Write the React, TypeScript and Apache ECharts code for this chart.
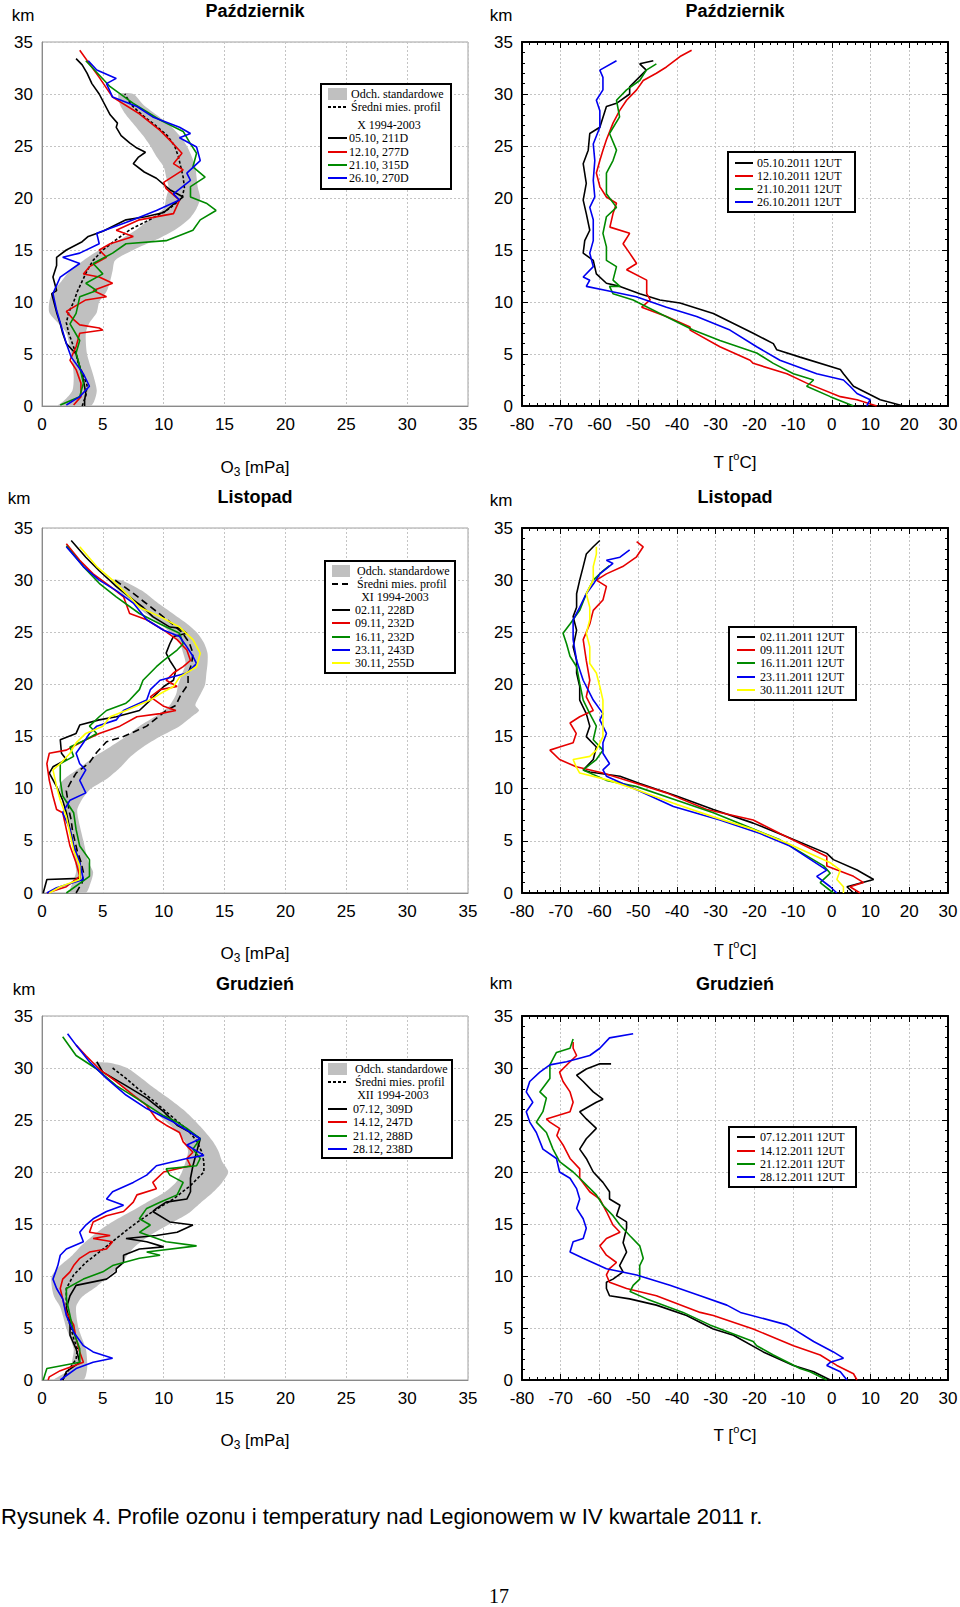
import React, { useEffect, useRef } from "react";
import * as echarts from "echarts";

type Pt = [number, number];
type BandRow = [number, number, number]; // km, left, right

// ---------- October ozone [mPa, km] ----------
const OCT_BAND: BandRow[] = [[0,1.3,4.0],[0.5,1.8,4.3],[1.5,2.5,4.5],[3,2.6,4.2],[5,2.4,3.7],[7,2.0,3.6],[8,1.3,3.9],[9,0.6,4.5],[10,0.6,4.7],[11,0.9,5.3],[12,1.6,5.6],[13,2.3,5.8],[14,3.4,6.0],[15,4.7,7.5],[16,6.4,9.4],[17,7.8,11.0],[18,8.9,12.1],[19,10.0,12.7],[20,10.2,13.0],[21,10.4,12.8],[22,10.2,12.7],[23,10.0,12.6],[24,9.4,12.3],[25,8.9,11.9],[26,8.3,11.3],[27,7.6,10.5],[28,6.9,9.4],[29,6.4,8.3],[30,6.3,7.5]];
const OCT_O3_MEAN: Pt[] = [[3.3,0],[3.6,1],[3.7,2],[3.4,3],[3.0,4],[2.8,5],[2.5,6],[2.2,7],[2.0,8],[2.2,9],[2.6,10],[2.9,11],[3.3,12],[3.7,13],[4.2,14],[5.0,15],[6.1,16],[7.3,17],[9.0,18],[10.5,19],[11.5,20],[11.7,21],[11.6,22],[11.4,23],[11.2,24],[10.9,25],[10.3,26],[9.3,27],[8.2,28],[7.3,29],[6.8,30]];
const OCT_O3_0510: Pt[] = [[3.5,0],[3.5,0.6],[3.6,1.2],[3.4,2.5],[3.1,3.8],[2.8,5.0],[2.0,6.0],[1.7,7.0],[1.5,7.9],[1.2,9.0],[0.8,10.8],[1.2,11.1],[0.9,12.4],[1.2,13.5],[1.2,14.3],[2.0,15.0],[3.3,15.8],[3.8,16.3],[5.0,16.8],[6.9,17.9],[8.5,18.2],[10.0,18.6],[10.8,19.4],[11.6,20.1],[10.5,20.8],[9.4,21.9],[8.4,22.5],[7.5,23.3],[7.9,23.9],[8.5,24.4],[7.8,24.8],[7.2,25.3],[6.5,26.0],[6.1,26.8],[6.2,27.2],[5.6,28.0],[4.7,30.0],[4.1,31.0],[3.7,32.0],[3.3,32.8],[2.8,33.4]];
const OCT_O3_1210: Pt[] = [[2.6,0.1],[3.2,0.9],[3.2,2.2],[2.8,3.5],[2.3,4.4],[2.8,5.7],[3.1,7.0],[5.0,7.3],[4.7,7.5],[3.1,7.8],[2.6,8.3],[2.0,9.1],[3.6,10.2],[5.3,10.5],[4.2,11.1],[5.8,11.8],[4.7,12.4],[3.4,12.7],[3.9,13.4],[5.3,14.3],[4.7,15.0],[5.6,15.6],[7.5,16.3],[6.1,16.9],[8.0,17.9],[10.8,18.5],[11.3,19.8],[10.2,20.9],[10.0,21.5],[11.6,22.7],[10.8,23.3],[11.5,24.3],[10.8,25.2],[9.7,26.5],[8.0,28.1],[5.8,29.7],[4.7,31.6],[3.1,34.2]];
const OCT_O3_2110: Pt[] = [[1.5,0.1],[3.1,0.9],[3.4,2.2],[3.1,3.8],[2.8,5.1],[3.1,6.3],[2.3,7.9],[2.8,8.9],[3.1,10.5],[4.5,11.1],[3.6,11.8],[5.0,12.7],[4.2,13.7],[5.8,14.7],[6.9,15.6],[10.2,15.9],[12.4,16.9],[13.0,17.9],[14.3,18.8],[13.5,19.5],[12.2,20.1],[12.2,21.1],[13.4,22.0],[12.4,23.0],[12.7,24.3],[12.2,25.2],[11.6,26.4],[9.7,27.5],[7.5,29.1],[5.6,30.7],[3.6,33.2]];
const OCT_O3_2610: Pt[] = [[2.0,0.1],[3.1,0.9],[3.9,1.9],[3.4,3.1],[2.4,4.7],[2.0,6.0],[1.6,7.6],[1.2,9.2],[0.9,10.8],[1.5,12.4],[3.1,13.7],[1.7,14.3],[3.1,14.7],[4.7,15.6],[4.5,16.6],[7.5,17.9],[9.4,18.8],[11.3,19.8],[10.8,20.4],[12.2,21.7],[11.9,22.4],[13.0,23.6],[12.7,24.9],[11.3,25.8],[12.2,26.2],[11.3,26.8],[9.1,27.8],[7.8,28.8],[5.8,29.7],[5.3,31.0],[6.1,31.5],[4.5,32.3],[3.8,33.2]];

// ---------- October temperature [°C, km] ----------
const OCT_T_0510: Pt[] = [[18.5,0],[12.5,0.6],[5.6,1.9],[3.0,3.1],[2.2,3.5],[-8.2,4.7],[-14.2,5.4],[-15.1,6.0],[-20.3,7.0],[-30.6,8.9],[-39.2,9.9],[-44.4,10.2],[-49.6,10.8],[-54.7,11.5],[-58.2,11.8],[-60.8,12.7],[-61.6,14.0],[-64.2,14.7],[-63.8,15.9],[-62.5,16.9],[-63.4,18.5],[-64.2,19.8],[-63.4,21.4],[-64.2,23.3],[-62.9,24.6],[-62.5,26.2],[-59.9,26.8],[-58.2,28.8],[-55.6,29.1],[-52.2,30.0],[-52.2,30.7],[-47.9,32.3],[-49.6,32.9],[-46.1,33.2]];
const OCT_T_1210: Pt[] = [[11.6,0],[6.5,0.6],[2.2,0.9],[-6.5,2.2],[-11.6,3.1],[-20.3,4.1],[-21.1,4.4],[-28.9,5.7],[-36.6,7.3],[-36.6,7.6],[-42.7,8.6],[-49.1,9.5],[-46.9,10.2],[-47.8,10.8],[-47.8,12.1],[-53.0,13.1],[-50.4,13.7],[-52.2,14.7],[-53.9,15.6],[-52.2,16.6],[-57.3,17.2],[-56.5,18.5],[-55.6,19.5],[-58.2,20.1],[-59.9,21.1],[-60.8,22.4],[-59.9,23.6],[-59.1,24.6],[-58.2,25.6],[-56.5,27.2],[-54.8,28.4],[-53.0,29.4],[-50.4,30.4],[-48.7,31.3],[-45.3,32.0],[-42.7,32.6],[-39.2,33.6],[-36.2,34.2]];
const OCT_T_2110: Pt[] = [[5.6,0],[-0.4,0.9],[-6.5,1.9],[-4.7,2.5],[-9.9,3.1],[-15.1,4.1],[-19.4,5.1],[-28.9,6.3],[-35.8,7.3],[-44.4,8.9],[-51.3,10.2],[-56.5,10.8],[-57.4,11.5],[-54.7,11.5],[-56.5,12.1],[-55.6,13.4],[-58.2,14.0],[-58.2,15.3],[-59.1,16.6],[-58.2,18.2],[-55.6,19.1],[-58.2,20.4],[-58.2,22.4],[-56.5,23.6],[-55.6,24.6],[-57.4,26.2],[-54.8,27.8],[-55.6,29.4],[-53.0,30.4],[-49.6,31.3],[-47.9,32.3],[-45.3,32.9]];
const OCT_T_2610: Pt[] = [[9.0,0],[9.9,0.6],[6.5,1.2],[4.7,1.9],[3.0,2.5],[-3.9,3.1],[-13.4,4.4],[-19.4,5.7],[-26.3,7.3],[-34.9,8.6],[-42.7,9.5],[-50.5,10.5],[-58.2,11.1],[-63.4,11.5],[-62.5,12.1],[-64.2,12.4],[-61.6,13.4],[-62.5,14.7],[-61.6,15.9],[-61.6,17.9],[-62.5,19.1],[-61.2,20.1],[-61.6,21.7],[-61.2,23.6],[-61.6,25.2],[-59.9,26.8],[-59.9,28.4],[-60.8,29.4],[-59.1,30.4],[-59.1,31.6],[-59.9,32.3],[-55.6,33.2]];

// ---------- November ozone ----------
const NOV_BAND: BandRow[] = [[0,2.3,3.6],[1,2.5,4.0],[2,2.8,4.2],[3,2.7,3.8],[5,2.5,3.4],[7,2.2,3.0],[8,1.9,2.9],[9,1.8,3.3],[10,1.4,4.0],[10.5,1.5,4.7],[11,1.9,5.4],[12,3.1,6.4],[13,4.2,7.2],[14,5.6,8.3],[15,6.9,9.7],[16,8.0,11.3],[17,9.4,12.4],[17.5,10.0,12.9],[18,10.5,12.6],[19,11.0,13.0],[20,11.2,13.4],[21,11.5,13.5],[22,11.8,13.6],[23,11.6,13.6],[24,11.3,13.3],[25,10.5,12.7],[26,9.5,11.7],[27,8.3,10.5],[28,7.3,9.3],[29,6.3,8.2],[30,5.6,6.5]];
const NOV_O3_MEAN: Pt[] = [[2.8,0],[3.3,1],[3.4,2],[3.2,3],[2.9,4],[2.7,5],[2.5,6],[2.4,7],[2.2,8],[2.1,9],[2.0,9.8],[2.3,10.5],[2.8,11.5],[3.9,12.5],[4.5,13.5],[5.3,14.5],[6.7,15],[8.6,16],[10.2,17.5],[11.0,18],[11.4,19],[12.0,20],[12.0,21],[12.3,22],[12.4,23],[12.1,24],[11.5,25],[10.5,26],[9.4,27],[8.3,28],[7.2,29],[6.0,30]];
const NOV_O3_0211: Pt[] = [[0.1,0],[0.4,1.3],[3.1,1.4],[3.1,2.9],[2.6,4.5],[2.3,6.1],[2.0,7.7],[1.7,8.9],[1.2,10.2],[0.6,11.5],[0.9,12.1],[2.0,12.8],[1.6,13.4],[1.5,14.7],[2.8,15.3],[3.1,16.1],[4.7,16.6],[6.1,16.9],[8.0,17.5],[8.9,18.5],[9.4,19.1],[10.0,19.8],[10.8,20.4],[11.0,21.4],[10.5,22.3],[10.2,23.0],[10.5,23.9],[10.8,24.6],[11.9,24.9],[11.3,25.4],[10.5,25.5],[9.1,26.5],[8.3,27.4],[7.5,28.1],[6.1,29.4],[4.7,30.9],[3.6,32.2],[2.4,33.8]];
const NOV_O3_0911: Pt[] = [[0.4,0],[2.0,0.6],[3.1,1.6],[2.8,2.9],[2.3,4.5],[2.0,6.1],[1.7,7.7],[1.2,8.0],[0.9,9.3],[0.6,10.8],[0.4,12.4],[0.6,13.4],[2.0,13.7],[3.6,14.7],[4.7,15.3],[6.4,16.0],[7.8,16.9],[9.7,17.2],[11.0,17.5],[10.0,17.9],[8.9,18.8],[9.7,19.5],[11.1,19.8],[10.2,20.4],[10.8,21.1],[11.6,21.7],[12.2,22.3],[11.9,23.3],[11.1,24.3],[10.0,25.2],[8.6,26.2],[7.2,26.8],[6.7,28.4],[5.6,29.4],[4.2,30.6],[3.1,31.9],[2.0,33.5]];
const NOV_O3_1611: Pt[] = [[2.0,0],[3.9,1.6],[3.9,3.2],[3.1,4.5],[2.8,6.1],[2.6,7.7],[1.7,9.3],[1.5,10.8],[1.5,12.4],[2.6,13.1],[2.3,14.0],[3.6,14.7],[4.5,15.3],[3.9,16.0],[4.7,16.9],[5.3,17.5],[6.9,18.2],[7.2,18.5],[8.0,19.5],[8.3,20.4],[9.4,21.7],[10.0,22.3],[11.1,23.3],[11.6,23.9],[11.3,24.9],[9.7,25.8],[8.0,26.8],[6.1,28.4],[4.7,29.7],[3.4,31.3],[2.0,33.3]];
const NOV_O3_2311: Pt[] = [[0.4,0],[1.2,0.5],[3.4,1.3],[3.1,2.9],[2.6,4.5],[2.3,6.1],[1.7,7.7],[2.3,8.9],[3.6,9.6],[3.1,10.8],[3.6,11.8],[3.1,12.4],[2.8,13.4],[3.4,14.4],[3.9,15.3],[4.5,16.0],[6.1,16.6],[6.7,17.5],[8.6,18.5],[8.9,19.5],[9.7,20.4],[11.9,21.1],[12.7,22.0],[12.4,22.7],[11.9,23.6],[11.3,24.6],[10.0,25.2],[8.6,26.2],[7.5,27.8],[6.1,29.0],[4.7,30.0],[3.4,31.3],[2.0,33.2]];
const NOV_O3_3011: Pt[] = [[0.6,0],[1.5,0.6],[3.1,1.3],[3.1,2.6],[2.6,4.1],[2.3,5.7],[2.0,7.3],[1.5,8.9],[1.2,10.2],[0.9,11.8],[1.5,12.4],[2.3,13.4],[2.8,14.4],[3.6,15.3],[5.0,16.0],[5.6,16.9],[6.9,17.5],[8.9,18.5],[9.7,19.1],[10.8,19.8],[11.3,20.7],[12.7,21.7],[13.0,23.0],[12.4,24.3],[11.3,25.5],[9.7,26.5],[8.0,27.4],[7.2,28.4],[5.8,30.0],[4.5,31.3],[3.1,33.2]];

// ---------- November temperature ----------
const NOV_T_0211: Pt[] = [[5.6,0],[3.9,0.6],[10.8,1.3],[6.5,2.2],[0.4,3.2],[-1.3,3.8],[-11.6,5.4],[-20.3,6.7],[-30.6,8.0],[-40.1,9.3],[-49.6,10.5],[-54.7,11.2],[-62.5,11.6],[-64.2,11.8],[-61.6,12.8],[-60.8,14.0],[-63.4,15.0],[-62.5,16.0],[-63.4,17.2],[-65.1,18.5],[-65.1,19.8],[-65.9,21.1],[-65.9,22.3],[-66.8,23.6],[-65.9,25.2],[-66.8,26.5],[-65.9,27.4],[-65.9,28.7],[-65.1,30.0],[-64.2,31.3],[-63.4,32.5],[-61.6,33.2],[-59.9,33.8]];
const NOV_T_0911: Pt[] = [[7.3,0],[4.7,0.6],[8.2,1.0],[5.6,1.6],[-1.3,2.6],[-1.3,3.5],[-13.4,5.7],[-20.3,7.0],[-32.3,8.0],[-42.7,9.6],[-50.4,10.5],[-59.1,11.5],[-66.0,12.1],[-70.3,12.8],[-72.8,13.7],[-70.3,14.0],[-66.8,14.4],[-66.0,15.3],[-67.6,16.3],[-65.1,16.9],[-61.6,17.5],[-63.4,18.8],[-62.5,20.4],[-63.4,22.3],[-64.2,24.3],[-62.5,25.8],[-61.6,27.1],[-59.1,28.1],[-58.2,29.4],[-60.8,30.0],[-58.2,30.6],[-54.0,31.3],[-50.5,32.2],[-48.7,33.2],[-50.4,33.7]];
const NOV_T_1611: Pt[] = [[0.4,0],[-3.0,1.0],[-0.4,1.9],[-2.1,2.6],[-13.4,5.1],[-22.0,6.4],[-30.6,7.7],[-40.1,8.9],[-50.4,10.2],[-58.2,10.8],[-64.2,11.8],[-60.8,12.8],[-59.1,13.7],[-61.6,14.7],[-60.8,16.0],[-62.5,17.2],[-64.2,18.5],[-65.1,20.1],[-65.9,21.7],[-67.6,22.7],[-68.5,23.9],[-69.4,24.9],[-67.6,25.8],[-65.1,27.1],[-63.4,28.7],[-61.6,30.0],[-59.1,30.9],[-57.4,31.4]];
const NOV_T_2311: Pt[] = [[1.3,0],[-0.4,0.6],[-3.9,1.6],[-1.3,2.2],[-10.8,4.5],[-18.5,5.7],[-28.9,7.0],[-40.9,8.3],[-50.4,9.9],[-58.2,11.2],[-59.1,11.8],[-57.4,12.4],[-59.1,13.4],[-59.1,14.4],[-58.2,15.3],[-59.9,16.6],[-59.1,17.2],[-61.6,18.5],[-64.2,20.4],[-65.9,22.3],[-66.8,24.3],[-66.8,26.2],[-65.1,27.4],[-63.4,28.7],[-61.6,29.6],[-59.9,30.6],[-56.5,31.6],[-58.2,31.9],[-54.7,32.2],[-52.2,32.9]];
const NOV_T_3011: Pt[] = [[3.0,0],[3.0,0.6],[1.3,1.3],[2.2,2.2],[-0.4,2.9],[-11.6,4.8],[-20.3,6.1],[-30.6,7.3],[-40.9,8.6],[-50.4,9.9],[-57.4,10.8],[-65.1,11.5],[-66.0,12.1],[-66.8,12.8],[-62.5,13.1],[-60.8,13.7],[-59.1,15.0],[-59.1,16.6],[-59.1,18.5],[-59.9,19.8],[-60.8,21.1],[-62.5,22.0],[-62.5,23.6],[-63.4,24.9],[-62.5,26.2],[-62.5,27.4],[-63.4,28.7],[-61.6,30.0],[-61.6,31.3],[-60.8,32.5],[-60.8,33.2]];

// ---------- December ozone ----------
const DEC_BAND: BandRow[] = [[0,1.0,3.4],[1,2.3,3.7],[2,2.5,3.7],[3,2.6,3.6],[5,2.0,3.0],[7,1.5,2.8],[8,1.0,3.3],[9,0.8,4.5],[10,0.8,5.5],[11,1.5,6.5],[12,2.5,7.0],[13,3.3,7.8],[14,4.3,9.0],[15,5.5,10.5],[16,7.0,12.0],[17,8.5,13.0],[18,10.0,14.0],[19,11.0,14.8],[20,11.5,15.3],[21,11.8,14.8],[22,12.0,14.5],[23,11.7,14.0],[24,11.0,13.3],[25,10.0,12.5],[26,9.0,11.6],[27,7.8,10.5],[28,6.8,9.3],[29,5.8,8.2],[30,4.8,7.0],[30.5,4.3,5.5]];
const DEC_O3_MEAN: Pt[] = [[1.7,0],[2.2,1],[2.8,2],[2.9,3],[2.6,4],[2.3,5.3],[2.1,6],[2.0,6.9],[2.0,8],[2.0,8.8],[2.6,10.1],[3.6,11.3],[4.7,12.3],[6.1,13.6],[7.5,14.9],[9.1,16.2],[10.8,17.4],[12.2,18.7],[13.3,20.0],[13.3,21],[13.1,22],[12.7,23],[12.0,24],[11.0,25],[10.0,26],[9.0,27],[7.9,28],[6.9,29],[5.8,30]];
const DEC_O3_0712: Pt[] = [[1.7,0],[2.0,0.8],[3.1,1.7],[2.8,3.0],[2.3,4.3],[2.3,5.6],[2.0,6.9],[2.3,8.1],[2.8,9.1],[5.3,9.7],[6.1,10.4],[6.1,10.7],[6.7,11.3],[6.7,12.0],[8.0,12.6],[10.0,12.8],[8.6,13.3],[6.9,13.6],[9.4,13.9],[11.1,14.2],[12.4,14.9],[10.5,15.2],[9.1,16.2],[9.4,16.5],[10.2,17.1],[11.9,17.4],[12.2,18.1],[12.2,19.4],[12.4,20.6],[12.7,21.9],[13.0,23.2],[12.2,23.8],[11.1,24.5],[10.0,25.8],[8.6,27.1],[6.9,28.3],[5.0,29.6],[4.5,30.6]];
const DEC_O3_1412: Pt[] = [[0.5,0],[0.6,0.3],[1.5,0.9],[3.4,1.7],[3.1,2.7],[2.8,4.0],[2.6,5.3],[2.0,6.5],[1.7,7.8],[1.5,8.8],[1.7,9.7],[2.3,10.4],[2.6,11.0],[3.1,11.7],[3.9,12.3],[5.3,12.6],[5.8,13.3],[4.2,13.6],[5.6,13.9],[3.9,14.2],[4.2,15.2],[5.3,15.8],[6.7,16.2],[7.5,17.1],[7.8,17.8],[9.4,18.4],[9.1,19.0],[10.0,20.0],[12.2,20.6],[11.9,21.3],[12.4,21.9],[11.6,22.9],[11.3,23.8],[10.2,24.5],[9.4,25.1],[8.6,26.4],[7.5,27.4],[6.1,28.7],[4.7,29.9],[3.6,31.2],[2.8,32.2]];
const DEC_O3_2112: Pt[] = [[0.1,0],[0.4,1.1],[3.1,1.7],[3.1,3.0],[2.6,4.6],[2.3,6.2],[2.0,7.8],[2.0,8.8],[3.4,9.7],[5.0,10.4],[5.8,11.0],[8.0,11.7],[9.7,12.0],[8.6,12.3],[12.7,12.9],[10.2,13.3],[8.0,14.2],[8.9,14.9],[8.0,15.5],[8.6,16.5],[9.7,17.1],[11.1,17.8],[11.6,19.0],[10.5,19.7],[10.2,20.3],[12.7,20.6],[13.0,21.3],[12.4,22.2],[13.0,23.2],[11.9,24.2],[11.1,24.8],[10.0,25.4],[8.3,26.7],[6.1,28.3],[4.5,29.9],[2.8,31.2],[1.7,33.0]];
const DEC_O3_2812: Pt[] = [[1.5,0],[2.8,1.1],[4.2,1.7],[5.8,2.1],[4.2,2.7],[3.4,3.3],[2.6,4.6],[2.0,6.2],[1.7,7.8],[1.2,8.8],[0.9,9.7],[1.3,11.0],[1.5,12.0],[2.0,12.6],[3.4,13.3],[3.1,14.2],[3.6,14.9],[4.2,15.5],[5.3,16.2],[6.7,16.8],[5.3,17.4],[5.8,18.1],[7.5,19.0],[8.6,19.7],[9.4,20.6],[11.9,21.3],[13.3,21.6],[11.9,22.6],[13.0,23.2],[12.2,23.8],[10.8,24.8],[8.6,26.1],[6.9,27.4],[5.3,29.0],[3.9,30.6],[2.8,32.2],[2.1,33.3]];

// ---------- December temperature ----------
const DEC_T_0712: Pt[] = [[-0.4,0],[-4.7,0.8],[-9.9,1.4],[-17.7,2.7],[-25.4,4.3],[-30.6,4.9],[-37.5,6.2],[-45.3,7.2],[-52.2,7.8],[-57.4,8.1],[-58.2,8.8],[-58.2,9.4],[-56.5,9.7],[-53.9,10.4],[-54.8,11.0],[-53.0,12.3],[-53.9,13.2],[-53.0,14.6],[-53.0,15.2],[-55.6,15.8],[-54.7,16.8],[-57.4,17.4],[-57.4,18.1],[-59.1,19.0],[-61.6,20.0],[-63.4,21.3],[-65.1,22.2],[-63.4,23.2],[-60.8,24.2],[-63.4,25.1],[-65.1,25.8],[-60.8,26.7],[-59.1,27.0],[-61.6,27.7],[-64.2,28.7],[-65.9,29.3],[-63.4,29.9],[-59.9,30.4],[-57.0,30.4]];
const DEC_T_1412: Pt[] = [[6.5,0],[5.6,0.6],[1.3,1.4],[-3.0,2.4],[-9.9,3.3],[-20.3,4.9],[-30.6,6.2],[-34.0,6.5],[-45.3,8.1],[-53.0,8.8],[-57.4,9.4],[-58.2,10.1],[-57.4,10.7],[-55.6,11.3],[-58.2,12.0],[-59.9,12.9],[-58.2,13.6],[-54.7,14.2],[-56.5,14.9],[-58.2,16.2],[-59.9,17.4],[-62.5,18.1],[-65.1,19.4],[-65.1,20.3],[-67.6,21.3],[-69.4,22.6],[-71.0,23.5],[-70.3,24.2],[-72.8,24.8],[-73.7,25.1],[-67.6,25.8],[-66.8,26.7],[-67.6,27.7],[-69.4,28.7],[-70.3,29.6],[-67.6,30.6],[-65.9,31.2],[-66.8,31.9],[-66.8,32.5]];
const DEC_T_2112: Pt[] = [[-1.3,0],[-5.6,0.8],[-8.2,1.1],[-15.1,2.4],[-19.4,3.3],[-20.3,3.7],[-31.5,5.3],[-38.4,6.5],[-47.8,7.8],[-52.1,8.5],[-51.3,9.1],[-49.6,9.7],[-49.6,11.0],[-48.7,11.7],[-49.6,12.9],[-52.2,13.9],[-54.7,14.9],[-56.5,15.8],[-59.1,16.8],[-60.8,17.8],[-65.1,19.4],[-66.8,20.0],[-70.3,21.0],[-72.0,22.2],[-73.7,23.8],[-76.3,24.8],[-74.6,25.8],[-73.7,27.1],[-75.4,27.7],[-72.8,29.0],[-72.8,30.3],[-71.1,31.5],[-67.6,31.9],[-66.8,32.8]];
const DEC_T_2812: Pt[] = [[3.9,0],[2.2,0.8],[-1.3,1.4],[-0.4,1.7],[3.0,2.1],[0.4,2.7],[-4.7,3.7],[-11.6,5.3],[-23.6,6.5],[-27.1,7.2],[-34.0,8.1],[-41.8,9.1],[-50.4,10.1],[-58.2,10.7],[-64.2,11.7],[-67.6,12.3],[-66.8,13.3],[-64.2,13.6],[-63.4,14.6],[-64.2,15.5],[-65.9,16.5],[-65.1,17.4],[-65.9,18.4],[-67.6,19.4],[-70.3,20.0],[-71.1,21.3],[-74.6,22.2],[-76.3,23.8],[-78.0,24.8],[-78.9,25.8],[-77.2,26.7],[-78.9,27.7],[-78.0,28.7],[-75.4,29.6],[-72.8,30.3],[-68.5,30.6],[-62.5,31.2],[-59.9,31.9],[-57.4,32.9],[-51.3,33.3]];

// ---------- labels ----------
const TITLES = ["Październik", "Październik", "Listopad", "Listopad", "Grudzień", "Grudzień"];
const OCT_O3_NAMES = ["05.10, 211D", "12.10, 277D", "21.10, 315D", "26.10, 270D"];
const NOV_O3_NAMES = ["02.11, 228D", "09.11, 232D", "16.11, 232D", "23.11, 243D", "30.11, 255D"];
const DEC_O3_NAMES = ["07.12, 309D", "14.12, 247D", "21.12, 288D", "28.12, 238D"];
const OCT_T_NAMES = ["05.10.2011 12UT", "12.10.2011 12UT", "21.10.2011 12UT", "26.10.2011 12UT"];
const NOV_T_NAMES = ["02.11.2011 12UT", "09.11.2011 12UT", "16.11.2011 12UT", "23.11.2011 12UT", "30.11.2011 12UT"];
const DEC_T_NAMES = ["07.12.2011 12UT", "14.12.2011 12UT", "21.12.2011 12UT", "28.12.2011 12UT"];
const PERIODS = ["X 1994-2003", "XI 1994-2003", "XII 1994-2003"];
const CAPTION = "Rysunek 4. Profile ozonu i temperatury nad Legionowem w IV kwartale 2011 r.";
const PAGE_NO = "17";

const BLACK = "#000000", RED = "#e60000", GREEN = "#008a00", BLUE = "#0000f0", YELLOW = "#ffff00";
const COLORS4 = [BLACK, RED, GREEN, BLUE];
const COLORS5 = [BLACK, RED, GREEN, BLUE, YELLOW];
const SANS = "Liberation Sans, Arial, sans-serif";
const SERIF = "Liberation Serif, Times New Roman, serif";

interface PanelDef {
  kind: "o3" | "t";
  left: number; top: number; width: number; height: number;
  lines: Pt[][]; colors: string[];
  band?: BandRow[]; mean?: Pt[]; meanDash?: number[];
}

const PANELS: PanelDef[] = [
  { kind: "o3", left: 42, top: 42, width: 426, height: 364, lines: [OCT_O3_0510, OCT_O3_1210, OCT_O3_2110, OCT_O3_2610], colors: COLORS4, band: OCT_BAND, mean: OCT_O3_MEAN, meanDash: [3, 2] },
  { kind: "t", left: 522, top: 42, width: 426, height: 364, lines: [OCT_T_0510, OCT_T_1210, OCT_T_2110, OCT_T_2610], colors: COLORS4 },
  { kind: "o3", left: 42, top: 528, width: 426, height: 365, lines: [NOV_O3_0211, NOV_O3_0911, NOV_O3_1611, NOV_O3_2311, NOV_O3_3011], colors: COLORS5, band: NOV_BAND, mean: NOV_O3_MEAN, meanDash: [7, 4] },
  { kind: "t", left: 522, top: 528, width: 426, height: 365, lines: [NOV_T_0211, NOV_T_0911, NOV_T_1611, NOV_T_2311, NOV_T_3011], colors: COLORS5 },
  { kind: "o3", left: 42, top: 1016, width: 426, height: 364, lines: [DEC_O3_0712, DEC_O3_1412, DEC_O3_2112, DEC_O3_2812], colors: COLORS4, band: DEC_BAND, mean: DEC_O3_MEAN, meanDash: [3, 2] },
  { kind: "t", left: 522, top: 1016, width: 426, height: 364, lines: [DEC_T_0712, DEC_T_1412, DEC_T_2112, DEC_T_2812], colors: COLORS4 },
];

function txt(x: number, y: number, text: string, o: any = {}) {
  return {
    type: "text", x, y, silent: true, z: 100,
    style: {
      text, fill: o.fill || "#000", fontSize: o.size || 17, fontFamily: o.family || SANS,
      fontWeight: o.weight || "normal", textAlign: o.align || "left", textVerticalAlign: "middle",
    },
  };
}
function hline(x1: number, x2: number, y: number, color: string, dash?: number[], w = 1.5) {
  return { type: "line", silent: true, z: 101, shape: { x1, y1: y, x2, y2: y }, style: { stroke: color, lineWidth: w, lineDash: dash } };
}
function rect(x: number, y: number, w: number, h: number, style: any) {
  return { type: "rect", silent: true, z: 99, shape: { x, y, width: w, height: h }, style };
}

function o3Legend(bx: number, by: number, bw: number, bh: number, period: string, periodX: number,
  rows: number[], lineX1: number, lineX2: number, textX: number, names: string[], colors: string[], dash: number[]) {
  const els: any[] = [rect(bx, by, bw, bh, { fill: "#fff", stroke: "#000", lineWidth: 2 })];
  els.push(rect(lineX1, rows[0] - 6, lineX2 - lineX1, 12, { fill: "#c0c0c0" }));
  els.push(txt(textX + 2, rows[0], "Odch. standardowe", { family: SERIF, size: 12 }));
  els.push(hline(lineX1, lineX2, rows[1], "#000", dash, 2));
  els.push(txt(textX + 2, rows[1], "Średni mies. profil", { family: SERIF, size: 12 }));
  els.push(txt(periodX, rows[2], period, { family: SERIF, size: 12, align: "center" }));
  names.forEach((n, i) => {
    els.push(hline(lineX1, lineX2, rows[3 + i], colors[i], undefined, 2));
    els.push(txt(textX, rows[3 + i], n, { family: SERIF, size: 12 }));
  });
  return els;
}
function tLegend(bx: number, by: number, bw: number, bh: number, rows: number[], lineX1: number, lineX2: number,
  textX: number, names: string[], colors: string[]) {
  const els: any[] = [rect(bx, by, bw, bh, { fill: "#fff", stroke: "#000", lineWidth: 2 })];
  names.forEach((n, i) => {
    els.push(hline(lineX1, lineX2, rows[i], colors[i], undefined, 2));
    els.push(txt(textX, rows[i], n, { family: SERIF, size: 12 }));
  });
  return els;
}
function o3Name(cx: number, cy: number) {
  return [txt(cx - 34.5, cy, "O"), txt(cx - 21.3, cy + 5, "3", { size: 12 }), txt(cx - 14.6, cy, " [mPa]")];
}
function tName(cx: number, cy: number) {
  return [txt(cx - 21.5, cy, "T ["), txt(cx - 1.7, cy - 6, "o", { size: 11 }), txt(cx + 4.4, cy, "C]")];
}

function buildOption() {
  const grid: any[] = [], xAxis: any[] = [], yAxis: any[] = [], series: any[] = [];
  PANELS.forEach((p, gi) => {
    const isT = p.kind === "t";
    grid.push({ left: p.left, top: p.top, width: p.width, height: p.height, show: !isT, borderColor: "#a0a0a0", borderWidth: 1, backgroundColor: "transparent", outerBoundsMode: "none" });
    const frame = isT ? "#000" : "#8a8a8a";
    const base = {
      gridIndex: gi, type: "value",
      axisLine: { show: true, onZero: false, lineStyle: { color: frame, width: isT ? 2 : 1 } },
      axisTick: { show: isT, inside: true, length: 6, lineStyle: { color: "#000", width: 1 } },
      minorTick: { show: isT, splitNumber: 5, length: 3, lineStyle: { color: "#000", width: 1 } },
      splitLine: { show: true, lineStyle: { color: "#c4c4c4", type: [2, 2], width: 1 } },
      axisLabel: { fontSize: 17, color: "#000", fontFamily: SANS, margin: 10 },
    };
    const xRange = isT ? { min: -80, max: 30, interval: 10 } : { min: 0, max: 35, interval: 5 };
    const xi = xAxis.length, yi = yAxis.length;
    xAxis.push({ ...base, position: "bottom", ...xRange });
    yAxis.push({ ...base, position: "left", min: 0, max: 35, interval: 5, axisLabel: { ...base.axisLabel, margin: 9 } });
    if (isT) {
      xAxis.push({ ...base, position: "top", ...xRange, axisLabel: { show: false }, splitLine: { show: false } });
      yAxis.push({ ...base, position: "right", min: 0, max: 35, interval: 5, axisLabel: { show: false }, splitLine: { show: false } });
    }
    if (p.band) {
      const band = p.band;
      series.push({
        type: "custom", xAxisIndex: xi, yAxisIndex: yi, data: [[0, 0]], silent: true, z: 1, clip: true,
        renderItem: (_params: any, api: any) => {
          const pts: number[][] = [];
          band.forEach((b) => pts.push(api.coord([b[1], b[0]])));
          for (let i = band.length - 1; i >= 0; i--) pts.push(api.coord([band[i][2], band[i][0]]));
          return { type: "polygon", shape: { points: pts, smooth: 0.25 }, style: { fill: "#c0c0c0", stroke: "none" } };
        },
      });
    }
    if (p.mean) {
      series.push({
        type: "line", xAxisIndex: xi, yAxisIndex: yi, data: p.mean, symbol: "none", showSymbol: false, silent: true, z: 3,
        lineStyle: { color: "#000", width: 1.6, type: p.meanDash },
      });
    }
    p.lines.forEach((d, li) => {
      series.push({
        type: "line", xAxisIndex: xi, yAxisIndex: yi, data: d, symbol: "none", showSymbol: false, silent: true, z: 4 + li,
        lineStyle: { color: p.colors[li], width: 1.6 }, itemStyle: { color: p.colors[li] }, clip: true,
      });
    });
  });

  const g: any[] = [];
  const titlePos: [number, number][] = [[255, 11], [735, 11], [255, 497], [735, 497], [255, 984], [735, 984]];
  titlePos.forEach((tp, i) => g.push(txt(tp[0], tp[1], TITLES[i], { weight: "bold", size: 18, align: "center" })));
  const kmPos: [number, number][] = [[23, 15], [501, 15], [19, 498], [501, 500], [24, 989], [501, 983]];
  kmPos.forEach((k) => g.push(txt(k[0], k[1], "km", { align: "center" })));
  g.push(...o3Name(255, 467), ...o3Name(255, 953), ...o3Name(255, 1440));
  g.push(...tName(735, 462), ...tName(735, 950), ...tName(735, 1435));
  g.push(...o3Legend(321, 84, 130, 105, PERIODS[0], 389, [94, 107, 125, 138, 152, 165, 178], 328, 347, 349, OCT_O3_NAMES, COLORS4, [3, 2]));
  g.push(...o3Legend(325, 561, 130, 112, PERIODS[1], 395, [571, 584, 597, 610, 623, 637, 650, 663], 332, 350, 355, NOV_O3_NAMES, COLORS5, [6, 4]));
  g.push(...o3Legend(322, 1060, 130, 98, PERIODS[2], 393, [1069, 1082, 1095, 1109, 1122, 1136, 1149], 328, 347, 353, DEC_O3_NAMES, COLORS4, [3, 2]));
  g.push(...tLegend(728, 152, 127, 60, [163, 176, 189, 202], 735, 753, 757, OCT_T_NAMES, COLORS4));
  g.push(...tLegend(729, 627, 127, 73, [637, 650, 663, 677, 690], 737, 755, 760, NOV_T_NAMES, COLORS5));
  g.push(...tLegend(729, 1127, 127, 60, [1137, 1151, 1164, 1177], 737, 755, 760, DEC_T_NAMES, COLORS4));
  g.push(txt(1, 1516, CAPTION, { size: 22 }));
  g.push(txt(499, 1596, PAGE_NO, { family: SERIF, size: 20, align: "center" }));

  return { animation: false, backgroundColor: "#fff", grid, xAxis, yAxis, series, graphic: g };
}

export default function App() {
  const ref = useRef<HTMLDivElement>(null);
  useEffect(() => {
    if (!ref.current) return;
    const chart = echarts.init(ref.current, null, { renderer: "svg" });
    chart.setOption(buildOption() as any);
    return () => chart.dispose();
  }, []);
  return <div ref={ref} style={{ position: "absolute", left: 0, top: 0, width: 960, height: 1607, background: "#fff" }} />;
}
